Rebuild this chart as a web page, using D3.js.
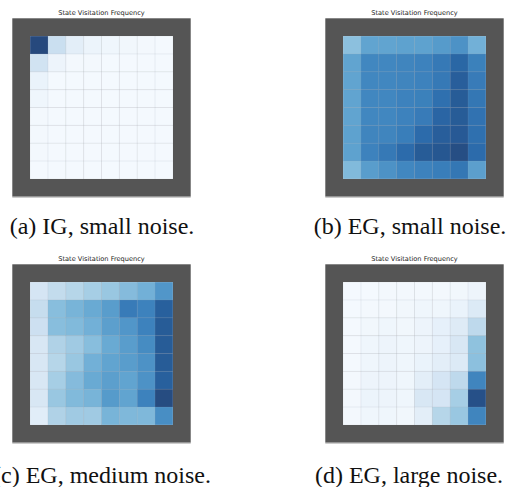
<!DOCTYPE html>
<html>
<head>
<meta charset="utf-8">
<script src="https://cdn.jsdelivr.net/npm/d3@7"></script>
<style>
  body { margin: 0; background: #fff; }
  .title { font-family: "DejaVu Sans", sans-serif; font-size: 6.6px; fill: #222; }
  .caption { font-family: "Liberation Serif", "Times New Roman", serif; font-size: 24px; fill: #111; }
</style>
</head>
<body>
<svg class="chart"></svg>
<script>

var chartTitle = "State Visitation Frequency";
var captions = ["(a) IG, small noise.", "(b) EG, small noise.", "(c) EG, medium noise.", "(d) EG, large noise."];

// visitation frequency per cell, rows top to bottom (colour scale 0..1)
var igSmall = [
  [1.00, 0.25, 0.12, 0.07, 0.05, 0.04, 0.03, 0.02],
  [0.22, 0.06, 0.03, 0.03, 0.02, 0.02, 0.02, 0.02],
  [0.08, 0.02, 0.02, 0.02, 0.02, 0.02, 0.02, 0.02],
  [0.05, 0.02, 0.02, 0.02, 0.02, 0.02, 0.02, 0.02],
  [0.03, 0.02, 0.02, 0.02, 0.02, 0.02, 0.02, 0.02],
  [0.03, 0.02, 0.02, 0.02, 0.02, 0.02, 0.02, 0.02],
  [0.03, 0.02, 0.02, 0.02, 0.02, 0.02, 0.02, 0.02],
  [0.02, 0.02, 0.02, 0.02, 0.02, 0.02, 0.02, 0.02]
];
var egSmall = [
  [0.46, 0.60, 0.60, 0.61, 0.61, 0.64, 0.68, 0.54],
  [0.60, 0.73, 0.73, 0.74, 0.75, 0.79, 0.87, 0.76],
  [0.60, 0.73, 0.73, 0.74, 0.75, 0.79, 0.91, 0.78],
  [0.60, 0.73, 0.73, 0.75, 0.76, 0.83, 0.92, 0.80],
  [0.60, 0.73, 0.73, 0.75, 0.78, 0.88, 0.92, 0.82],
  [0.61, 0.74, 0.74, 0.77, 0.85, 0.91, 0.93, 0.83],
  [0.61, 0.75, 0.79, 0.85, 0.92, 0.94, 0.98, 0.85],
  [0.49, 0.63, 0.68, 0.73, 0.75, 0.77, 0.80, 0.62]
];
var egMedium = [
  [0.20, 0.28, 0.33, 0.38, 0.42, 0.48, 0.54, 0.66],
  [0.27, 0.47, 0.52, 0.57, 0.63, 0.78, 0.75, 0.90],
  [0.24, 0.47, 0.49, 0.54, 0.62, 0.66, 0.75, 0.92],
  [0.18, 0.35, 0.40, 0.47, 0.57, 0.63, 0.71, 0.92],
  [0.18, 0.33, 0.42, 0.54, 0.60, 0.63, 0.68, 0.92],
  [0.18, 0.38, 0.48, 0.57, 0.62, 0.60, 0.68, 0.90],
  [0.18, 0.42, 0.49, 0.52, 0.64, 0.60, 0.75, 0.99],
  [0.13, 0.35, 0.40, 0.40, 0.52, 0.50, 0.50, 0.70]
];
var egLarge = [
  [0.02, 0.02, 0.03, 0.03, 0.03, 0.03, 0.04, 0.06],
  [0.02, 0.03, 0.03, 0.04, 0.05, 0.05, 0.08, 0.16],
  [0.02, 0.04, 0.05, 0.04, 0.06, 0.10, 0.15, 0.30],
  [0.02, 0.05, 0.06, 0.05, 0.06, 0.10, 0.18, 0.45],
  [0.02, 0.05, 0.06, 0.05, 0.08, 0.12, 0.16, 0.46],
  [0.03, 0.06, 0.06, 0.05, 0.12, 0.20, 0.30, 0.74],
  [0.03, 0.07, 0.06, 0.05, 0.18, 0.20, 0.38, 0.97],
  [0.03, 0.05, 0.05, 0.04, 0.12, 0.33, 0.42, 0.74]
];

var panels = [igSmall, egSmall, egMedium, egLarge];

var chartWidth = 510;
var chartHeight = 487;
var frameSize = 178.4;
var origins = [[12.3, 18.3], [325.3, 18.3], [12.3, 264.3], [325.3, 264.3]];
var captionX = [102, 410, 102, 409];
var captionY = [234, 234, 483, 483];

var svg = d3.select('.chart').attr("width", chartWidth).attr("height", chartHeight);

// 10x10 grid: outer ring is the wall, 8x8 inside
var pos = d3.scaleBand().domain(d3.range(10)).range([0, frameSize]).padding(0);
var color = d3.scaleSequential(d3.interpolateBlues).domain([0, 1]);

panels.forEach(function(grid, i) {
  var g = svg.append("g").attr("transform", "translate(" + origins[i][0] + "," + origins[i][1] + ")");

  g.append("rect")
    .attr("width", frameSize).attr("height", frameSize)
    .attr("fill", "#555555");

  g.append("line")
    .attr("x1", 0).attr("x2", frameSize)
    .attr("y1", frameSize + 0.5).attr("y2", frameSize + 0.5)
    .attr("stroke", "#b5b5b5").attr("stroke-width", 1);

  var cells = [];
  grid.forEach(function(row, r) {
    row.forEach(function(v, c) { cells.push({r: r + 1, c: c + 1, v: v}); });
  });

  g.selectAll("rect.cell").data(cells).enter().append("rect")
    .attr("class", "cell")
    .attr("x", function(d) { return pos(d.c); })
    .attr("y", function(d) { return pos(d.r); })
    .attr("width", pos.bandwidth())
    .attr("height", pos.bandwidth())
    .attr("fill", "#fff");

  g.selectAll("rect.val").data(cells).enter().append("rect")
    .attr("class", "val")
    .attr("x", function(d) { return pos(d.c); })
    .attr("y", function(d) { return pos(d.r); })
    .attr("width", pos.bandwidth())
    .attr("height", pos.bandwidth())
    .attr("fill", function(d) { return color(d.v); })
    .attr("fill-opacity", 0.88);

  // faint grid lines between cells
  var inner = d3.range(2, 9);
  g.selectAll("line.v").data(inner).enter().append("line")
    .attr("x1", function(d) { return pos(d); }).attr("x2", function(d) { return pos(d); })
    .attr("y1", pos(1)).attr("y2", pos(9))
    .attr("stroke", "#9aa4b0").attr("stroke-opacity", 0.15).attr("stroke-width", 1);
  g.selectAll("line.h").data(inner).enter().append("line")
    .attr("y1", function(d) { return pos(d); }).attr("y2", function(d) { return pos(d); })
    .attr("x1", pos(1)).attr("x2", pos(9))
    .attr("stroke", "#9aa4b0").attr("stroke-opacity", 0.15).attr("stroke-width", 1);

  g.append("text")
    .attr("class", "title")
    .attr("x", frameSize / 2).attr("y", -3.3)
    .attr("text-anchor", "middle")
    .text(chartTitle);

  svg.append("text")
    .attr("class", "caption")
    .attr("text-anchor", "middle")
    .attr("x", captionX[i]).attr("y", captionY[i])
    .text(captions[i]);
});

</script>
</body>
</html>
